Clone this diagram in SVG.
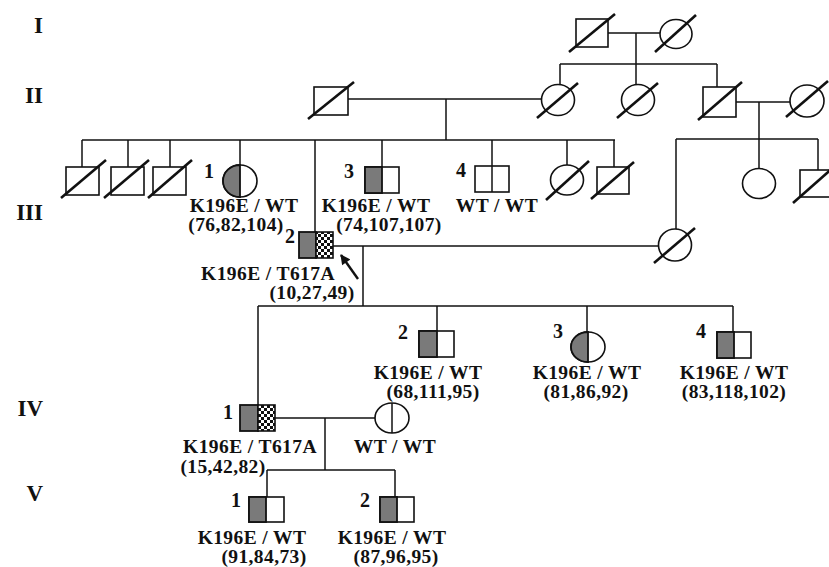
<svg xmlns="http://www.w3.org/2000/svg" width="829" height="567" viewBox="0 0 829 567">
<defs>
<pattern id="chk" width="6" height="6" patternUnits="userSpaceOnUse">
<rect width="6" height="6" fill="#fff"/>
<rect width="3" height="3" fill="#111"/>
<rect x="3" y="3" width="3" height="3" fill="#111"/>
</pattern>
<marker id="ah" viewBox="0 0 10 10" refX="9" refY="5" markerWidth="11" markerHeight="10" orient="auto" markerUnits="userSpaceOnUse">
<path d="M0,0 L10,5 L0,10 Z" fill="#111"/>
</marker>
<style>
.s{fill:#fff;stroke:#111;stroke-width:1.6}
.g{fill:#7a7a7a;stroke:#111;stroke-width:1.8}
.c{fill:url(#chk);stroke:#111;stroke-width:1.6}
.d{stroke:#111;stroke-width:2.6;fill:none}
.l{stroke:#111;stroke-width:1.5;fill:none}
text{font-family:"Liberation Serif","Times New Roman",serif;font-weight:bold;fill:#111}
.t{font-size:19.5px;letter-spacing:0.4px;text-anchor:middle}
.num{font-size:20px;text-anchor:middle}
.gen{font-size:23px;text-anchor:end}
</style>
</defs>
<rect width="829" height="567" fill="#fff"/>

<g id="generations">
<text class="gen" x="43" y="33">I</text>
<text class="gen" x="43" y="103">II</text>
<text class="gen" x="43" y="220">III</text>
<text class="gen" x="43" y="416">IV</text>
<text class="gen" x="43" y="501">V</text>
</g>

<g id="connectors">
<line class="l" x1="608" y1="33" x2="660" y2="33"/>
<line class="l" x1="636" y1="33" x2="636" y2="85"/>
<line class="l" x1="560" y1="64" x2="717" y2="64"/>
<line class="l" x1="560" y1="64" x2="560" y2="85"/>
<line class="l" x1="717" y1="64" x2="717" y2="87"/>
<line class="l" x1="348" y1="99" x2="541.5" y2="99"/>
<line class="l" x1="446" y1="99" x2="446" y2="140"/>
<line class="l" x1="736" y1="102" x2="790" y2="102"/>
<line class="l" x1="759" y1="102" x2="759" y2="168.5"/>
<line class="l" x1="82" y1="140" x2="615" y2="140"/>
<line class="l" x1="82" y1="140" x2="82" y2="167"/>
<line class="l" x1="128" y1="140" x2="128" y2="167"/>
<line class="l" x1="170" y1="140" x2="170" y2="167"/>
<line class="l" x1="240" y1="140" x2="240" y2="165"/>
<line class="l" x1="315" y1="140" x2="315" y2="232"/>
<line class="l" x1="382" y1="140" x2="382" y2="167"/>
<line class="l" x1="492" y1="140" x2="492" y2="166"/>
<line class="l" x1="567" y1="140" x2="567" y2="165"/>
<line class="l" x1="614" y1="140" x2="614" y2="167"/>
<line class="l" x1="676" y1="139" x2="818" y2="139"/>
<line class="l" x1="676" y1="139" x2="676" y2="229"/>
<line class="l" x1="818" y1="139" x2="818" y2="170"/>
<line class="l" x1="333" y1="246" x2="658.5" y2="246"/>
<line class="l" x1="363" y1="246" x2="363" y2="306"/>
<line class="l" x1="258" y1="306" x2="733" y2="306"/>
<line class="l" x1="258" y1="306" x2="258" y2="405"/>
<line class="l" x1="437" y1="306" x2="437" y2="331"/>
<line class="l" x1="587" y1="306" x2="587" y2="332"/>
<line class="l" x1="733" y1="306" x2="733" y2="332"/>
<line class="l" x1="275" y1="418" x2="375" y2="418"/>
<line class="l" x1="325" y1="418" x2="325" y2="470"/>
<line class="l" x1="267" y1="470" x2="395" y2="470"/>
<line class="l" x1="267" y1="470" x2="267" y2="497"/>
<line class="l" x1="395" y1="470" x2="395" y2="497"/>
<line x1="358" y1="279" x2="341" y2="255" stroke="#111" stroke-width="2.4" marker-end="url(#ah)"/>
</g>

<g id="I-1"><rect class="s" x="576" y="19" width="32" height="28"/><line class="d" x1="569" y1="52" x2="615" y2="14"/></g>
<g id="I-2"><ellipse class="s" cx="676" cy="34" rx="16" ry="14.5"/><line class="d" x1="655" y1="52" x2="696" y2="15"/></g>

<g id="II-1"><rect class="s" x="314" y="87" width="34" height="28"/><line class="d" x1="308" y1="119" x2="354" y2="82"/></g>
<g id="II-2"><ellipse class="s" cx="558" cy="100" rx="16.5" ry="15.5"/><line class="d" x1="537" y1="118" x2="578" y2="83"/></g>
<g id="II-3"><ellipse class="s" cx="638" cy="100" rx="16.5" ry="15.5"/><line class="d" x1="617" y1="118" x2="658" y2="83"/></g>
<g id="II-4"><rect class="s" x="703" y="87" width="33" height="30"/><line class="d" x1="698" y1="120" x2="742" y2="82"/></g>
<g id="II-5"><ellipse class="s" cx="807" cy="101" rx="17" ry="16"/><line class="d" x1="786" y1="117" x2="828" y2="81"/></g>

<g id="III-a"><rect class="s" x="66" y="167" width="33" height="28"/><line class="d" x1="61" y1="198" x2="106" y2="160"/></g>
<g id="III-b"><rect class="s" x="111" y="167" width="33" height="28"/><line class="d" x1="104" y1="198" x2="149" y2="160"/></g>
<g id="III-c"><rect class="s" x="153" y="167" width="33" height="28"/><line class="d" x1="148" y1="198" x2="192" y2="160"/></g>
<g id="III-1">
<ellipse class="s" cx="240" cy="181" rx="17" ry="16"/>
<path class="g" d="M240,165 A17,16 0 0 0 240,197 Z"/>
<text class="num" x="209" y="178">1</text>
<text class="t" x="244" y="212">K196E / WT</text>
<text class="t" x="236" y="231">(76,82,104)</text>
</g>
<g id="III-2">
<rect class="g" x="299" y="232" width="17" height="26"/>
<rect class="c" x="316" y="232" width="17" height="26"/>
<text class="num" x="290" y="243">2</text>
<text class="t" x="268" y="280">K196E / T617A</text>
<text class="t" x="312" y="299">(10,27,49)</text>
</g>
<g id="III-3">
<rect class="s" x="365" y="167" width="34" height="26"/>
<rect class="g" x="365" y="167" width="17" height="26"/>
<text class="num" x="349" y="178">3</text>
<text class="t" x="376" y="212">K196E / WT</text>
<text class="t" x="389" y="231">(74,107,107)</text>
</g>
<g id="III-4">
<rect class="s" x="475" y="166" width="34" height="26"/>
<line class="l" x1="492" y1="166" x2="492" y2="192"/>
<text class="num" x="461" y="177">4</text>
<text class="t" x="497" y="212">WT / WT</text>
</g>
<g id="III-5"><ellipse class="s" cx="567" cy="180" rx="16.5" ry="15"/><line class="d" x1="546" y1="200" x2="589" y2="161"/></g>
<g id="III-6"><rect class="s" x="597" y="167" width="32" height="27"/><line class="d" x1="591" y1="199" x2="634" y2="162"/></g>
<g id="III-7"><ellipse class="s" cx="675" cy="245" rx="16.5" ry="16"/><line class="d" x1="654" y1="263" x2="695" y2="228"/></g>
<g id="III-8"><ellipse class="s" cx="759" cy="183.5" rx="16.5" ry="15"/></g>
<g id="III-9"><rect class="s" x="800" y="170" width="34" height="27"/><line class="d" x1="793" y1="203" x2="836" y2="165"/></g>

<g id="IV-1">
<rect class="g" x="240" y="405" width="18" height="26"/>
<rect class="c" x="258" y="405" width="17" height="26"/>
<text class="num" x="228" y="419">1</text>
<text class="t" x="250" y="453">K196E / T617A</text>
<text class="t" x="223" y="473">(15,42,82)</text>
</g>
<g id="IV-1-spouse">
<ellipse class="s" cx="392" cy="418" rx="17" ry="15"/>
<line class="l" x1="392" y1="403" x2="392" y2="433"/>
<text class="t" x="395" y="453">WT / WT</text>
</g>
<g id="IV-2">
<rect class="s" x="419" y="331" width="35" height="26"/>
<rect class="g" x="419" y="331" width="18" height="26"/>
<text class="num" x="403" y="339">2</text>
<text class="t" x="428" y="379">K196E / WT</text>
<text class="t" x="433" y="398">(68,111,95)</text>
</g>
<g id="IV-3">
<ellipse class="s" cx="588" cy="347" rx="17" ry="15"/>
<path class="g" d="M588,332 A17,15 0 0 0 588,362 Z"/>
<text class="num" x="558" y="338">3</text>
<text class="t" x="587" y="379">K196E / WT</text>
<text class="t" x="586" y="398">(81,86,92)</text>
</g>
<g id="IV-4">
<rect class="s" x="717" y="332" width="34" height="26"/>
<rect class="g" x="717" y="332" width="17" height="26"/>
<text class="num" x="701" y="338">4</text>
<text class="t" x="734" y="379">K196E / WT</text>
<text class="t" x="734" y="398">(83,118,102)</text>
</g>

<g id="V-1">
<rect class="s" x="249" y="497" width="35" height="25"/>
<rect class="g" x="249" y="497" width="17" height="25"/>
<text class="num" x="236" y="507">1</text>
<text class="t" x="252" y="544">K196E / WT</text>
<text class="t" x="264" y="563">(91,84,73)</text>
</g>
<g id="V-2">
<rect class="s" x="380" y="497" width="34" height="25"/>
<rect class="g" x="380" y="497" width="17" height="25"/>
<text class="num" x="365" y="507">2</text>
<text class="t" x="392" y="544">K196E / WT</text>
<text class="t" x="396" y="563">(87,96,95)</text>
</g>
</svg>
